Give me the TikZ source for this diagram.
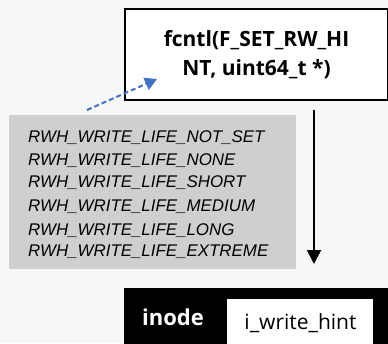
\documentclass[tikz,border=0pt]{standalone}
\usepackage{fontspec}
\setmainfont{Open Sans}
\newfontfamily\hintfont{Liberation Sans}
\usetikzlibrary{arrows.meta}
\definecolor{bgpaper}{RGB}{247,247,247}
\definecolor{panelgray}{RGB}{208,207,208}
\definecolor{linkblue}{RGB}{68,114,196}
\tikzset{
  callbox/.style={draw=black, line width=2pt, fill=white, anchor=north west,
    minimum width=263pt, minimum height=91pt, inner sep=0pt, align=center,
    font=\bfseries\fontsize{21}{29}\selectfont},
  hintline/.style={anchor=base west, inner sep=0pt,
    font=\hintfont\itshape\fontsize{16.9}{21}\selectfont},
  hintlink/.style={linkblue, line width=2pt, dash pattern=on 5pt off 3pt,
    -{Triangle[length=12pt,width=13pt]}},
  flow/.style={black, line width=2pt, -{Triangle[length=14pt,width=14pt]}},
}
\begin{document}
\begin{tikzpicture}[x=1pt,y=-1pt]
  \fill[bgpaper] (0,0) rectangle (388,343);
  \useasboundingbox (0,0) rectangle (388,343);

  % system call box
  \node[callbox] (call) at (124,8) {fcntl(F\_SET\_RW\_HI\\NT, uint64\_t *)};

  % list of hint values
  \node[fill=panelgray, anchor=north west, minimum width=287pt,
        minimum height=154pt, inner sep=0pt] (panel) at (9,115) {};
  \node[hintline] (h1) at (28,142.3) {RWH\_WRITE\_LIFE\_NOT\_SET};
  \node[hintline] (h2) at (28,165.7) {RWH\_WRITE\_LIFE\_NONE};
  \node[hintline] (h3) at (28,187.3) {RWH\_WRITE\_LIFE\_SHORT};
  \node[hintline] (h4) at (28,211.7) {RWH\_WRITE\_LIFE\_MEDIUM};
  \node[hintline] (h5) at (28,235.7) {RWH\_WRITE\_LIFE\_LONG};
  \node[hintline] (h6) at (28,256.7) {RWH\_WRITE\_LIFE\_EXTREME};

  % dashed link from the values to the call
  \coordinate (linkfrom) at (87,110);
  \coordinate (linkto) at (157,79);
  \draw[hintlink] (linkfrom) -- (linkto);

  % inode with its write hint field
  \node[fill=black, anchor=north west, minimum width=264pt,
        minimum height=56pt, inner sep=0pt] (inode) at (124,288) {};
  \node[text=white, font=\bfseries\fontsize{22}{26}\selectfont,
        anchor=base, inner sep=0pt] (inodelabel) at (173,325) {inode};
  \node[fill=white, anchor=north west, minimum width=146pt,
        minimum height=45pt, inner sep=0pt] (field) at (227,299) {};
  \node[font=\fontsize{21}{26}\selectfont, anchor=base, inner sep=0pt]
        (fieldlabel) at (300.5,329) {i\_write\_hint};

  % flow from the call down to the inode
  \coordinate (flowfrom) at (314,110);
  \coordinate (flowto) at (314,264);
  \draw[flow] (flowfrom) -- (flowto);
\end{tikzpicture}
\end{document}
